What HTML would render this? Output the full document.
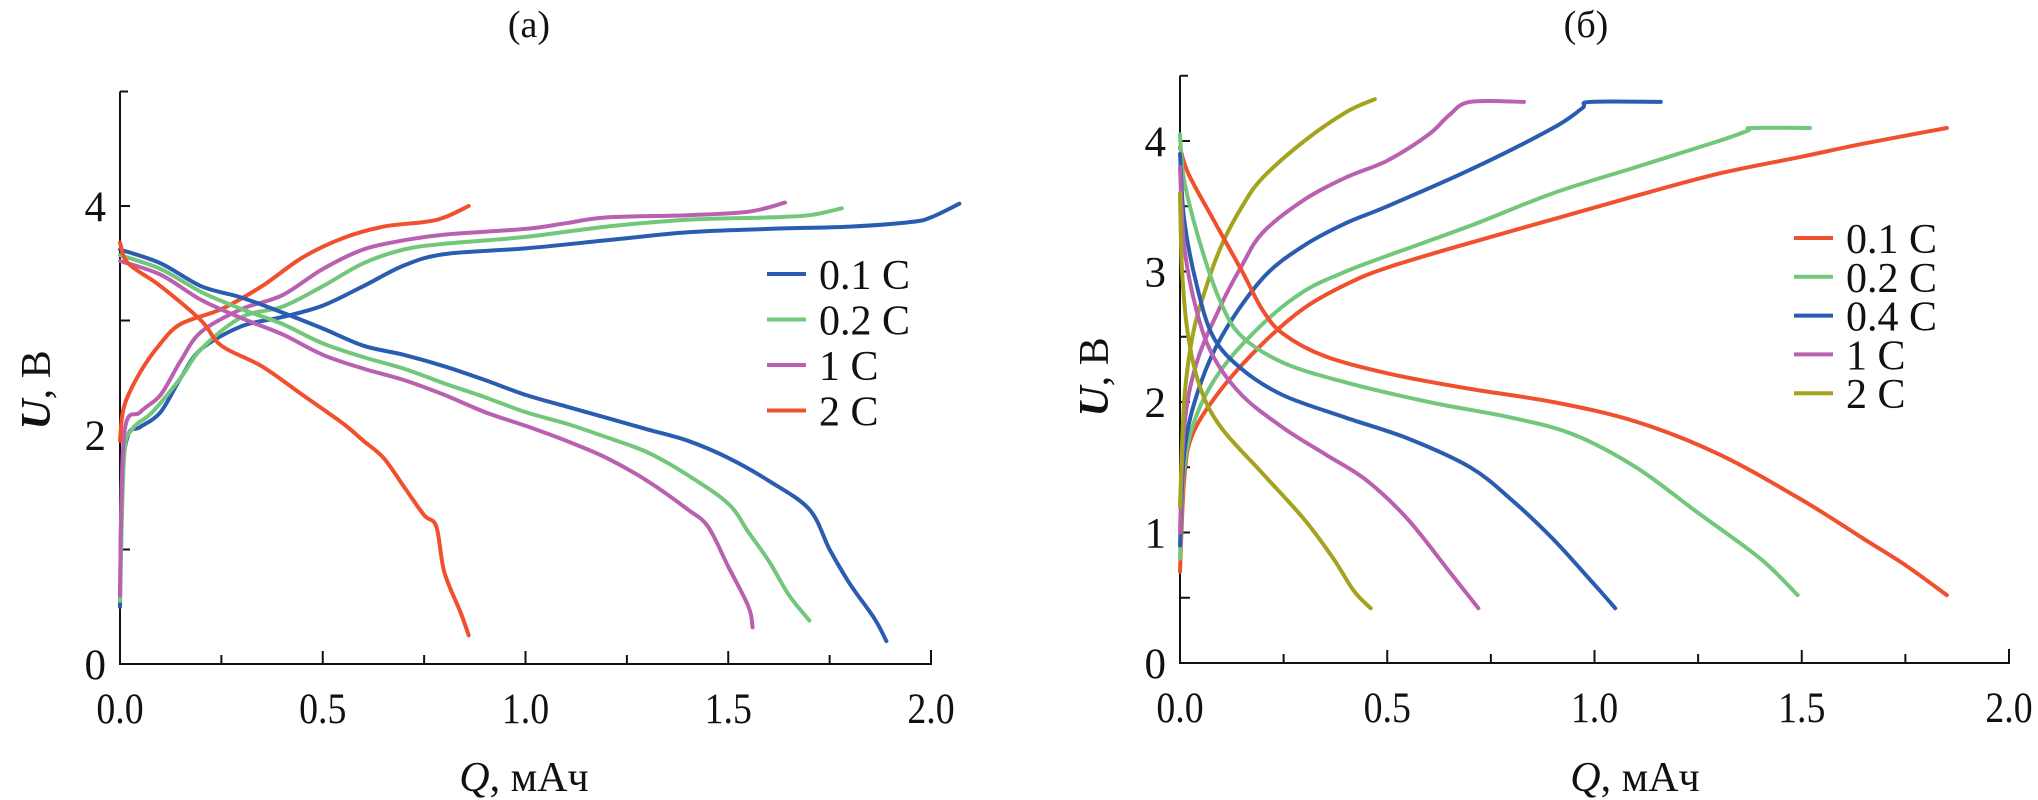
<!DOCTYPE html>
<html><head><meta charset="utf-8"><style>
body{margin:0;background:#fff}
svg{display:block}
text{font-family:"Liberation Serif","Times New Roman",serif;fill:#111}
</style></head><body>
<svg id="s" width="2038" height="800" viewBox="0 0 2038 800"></svg>
<script>
// ---- data: panel (a)
const aLabels=["0.1 C","0.2 C","1 C","2 C"];
const aColors=["#2a5cb0","#72c77a","#b960b0","#f0502e"];
const aDisQ=[[0,0.1,0.2,0.3,0.4,0.5,0.6,0.7,0.8,0.9,1.0,1.1,1.2,1.3,1.4,1.5,1.6,1.7,1.75,1.8,1.86,1.89],
[0,0.1,0.2,0.3,0.4,0.5,0.6,0.7,0.8,0.9,1.0,1.1,1.2,1.3,1.4,1.5,1.55,1.6,1.65,1.7],
[0,0.1,0.2,0.3,0.4,0.5,0.6,0.7,0.8,0.9,1.0,1.1,1.2,1.3,1.4,1.45,1.5,1.55,1.56],
[0,0.02,0.1,0.2,0.25,0.35,0.45,0.55,0.6,0.65,0.7,0.75,0.78,0.8,0.84,0.86]];
const aDisU=[[3.62,3.5,3.3,3.2,3.07,2.93,2.78,2.7,2.6,2.48,2.35,2.25,2.15,2.05,1.95,1.8,1.6,1.35,1.0,0.7,0.4,0.2],
[3.57,3.45,3.25,3.1,2.97,2.8,2.68,2.58,2.45,2.33,2.2,2.1,1.98,1.85,1.65,1.4,1.15,0.9,0.6,0.38],
[3.52,3.4,3.18,3.02,2.88,2.7,2.58,2.48,2.35,2.2,2.08,1.95,1.8,1.6,1.35,1.2,0.85,0.5,0.32],
[3.68,3.5,3.3,3.0,2.78,2.6,2.35,2.1,1.95,1.8,1.55,1.3,1.2,0.8,0.45,0.25]];
const aChQ=[[0,0.005,0.02,0.05,0.1,0.15,0.2,0.3,0.4,0.5,0.6,0.7,0.8,1.0,1.2,1.4,1.6,1.8,1.95,2.0,2.07],
[0,0.01,0.03,0.08,0.15,0.2,0.3,0.4,0.5,0.6,0.7,0.8,1.0,1.2,1.4,1.6,1.7,1.78],
[0,0.01,0.05,0.1,0.15,0.2,0.3,0.4,0.5,0.6,0.7,0.8,1.0,1.1,1.2,1.4,1.55,1.64],
[0,0.01,0.05,0.1,0.15,0.25,0.35,0.45,0.55,0.65,0.75,0.8,0.86]];
const aChU=[[0.5,1.6,2.0,2.07,2.2,2.5,2.75,2.95,3.03,3.13,3.3,3.48,3.58,3.63,3.7,3.77,3.8,3.82,3.86,3.9,4.02],
[0.55,1.8,2.05,2.2,2.5,2.75,3.03,3.12,3.3,3.5,3.62,3.67,3.73,3.82,3.88,3.9,3.92,3.98],
[0.6,2.0,2.2,2.35,2.65,2.9,3.1,3.22,3.45,3.62,3.7,3.75,3.8,3.85,3.9,3.92,3.95,4.03],
[1.95,2.25,2.55,2.8,2.97,3.1,3.3,3.55,3.72,3.82,3.86,3.9,4.0]];
// ---- data: panel (б)
const bLabels=["0.1 C","0.2 C","0.4 C","1 C","2 C"];
const bColors=["#f0502e","#72c77a","#2a5cb0","#b960b0","#a3a31e"];
const bChQ=[[0,0.01,0.03,0.1,0.2,0.3,0.4,0.5,0.7,0.9,1.1,1.3,1.5,1.65,1.85],
[0,0.01,0.04,0.1,0.2,0.3,0.4,0.5,0.7,0.9,1.1,1.3,1.37,1.38,1.52],
[0,0.01,0.04,0.1,0.2,0.3,0.4,0.5,0.7,0.9,0.97,0.99,1.16],
[0,0.01,0.04,0.1,0.15,0.2,0.3,0.4,0.5,0.6,0.65,0.7,0.83],
[0,0.01,0.03,0.06,0.1,0.15,0.2,0.3,0.4,0.47]];
const bChU=[[0.7,1.4,1.75,2.1,2.45,2.72,2.9,3.03,3.22,3.4,3.58,3.75,3.88,3.98,4.1],
[0.8,1.5,1.9,2.25,2.6,2.85,3.0,3.12,3.35,3.6,3.8,4.0,4.08,4.1,4.1],
[0.9,1.6,2.05,2.5,2.95,3.2,3.37,3.5,3.78,4.1,4.25,4.3,4.3],
[1.0,1.8,2.3,2.75,3.05,3.3,3.55,3.72,3.85,4.05,4.2,4.3,4.3],
[1.2,2.0,2.5,2.85,3.2,3.5,3.72,4.0,4.22,4.32]];
const bDisQ=[[0,0.02,0.08,0.15,0.2,0.25,0.35,0.5,0.7,0.9,1.1,1.3,1.5,1.65,1.75,1.85],
[0,0.01,0.05,0.1,0.15,0.25,0.4,0.6,0.8,0.95,1.1,1.25,1.4,1.49],
[0,0.01,0.04,0.08,0.15,0.25,0.4,0.55,0.7,0.8,0.9,1.0,1.05],
[0,0.01,0.04,0.08,0.15,0.25,0.35,0.45,0.55,0.65,0.72],
[0,0.005,0.02,0.05,0.1,0.2,0.3,0.37,0.42,0.46]];
const bDisU=[[3.95,3.75,3.4,3.0,2.7,2.52,2.35,2.22,2.1,2.0,1.85,1.6,1.25,0.95,0.75,0.52],
[4.05,3.7,3.2,2.75,2.5,2.3,2.15,2.0,1.88,1.75,1.5,1.15,0.8,0.52],
[3.9,3.4,2.9,2.5,2.25,2.05,1.88,1.72,1.5,1.25,0.95,0.6,0.42],
[3.8,3.2,2.7,2.35,2.05,1.8,1.6,1.4,1.1,0.7,0.42],
[3.6,3.0,2.5,2.1,1.8,1.45,1.1,0.8,0.55,0.42]];
const xTicks=["0.0","0.5","1.0","1.5","2.0"];

const NS="http://www.w3.org/2000/svg";
const svg=document.getElementById('s');
const FF='"Liberation Serif","Times New Roman",serif';
function mk(tag,attrs,parent,txt){const e=document.createElementNS(NS,tag);for(const k in attrs)e.setAttribute(k,attrs[k]);if(tag==='text')e.setAttribute('font-family',FF);if(txt!==undefined)e.textContent=txt;(parent||svg).appendChild(e);return e;}

function smooth(pts){
  let d='M'+pts[0][0].toFixed(1)+' '+pts[0][1].toFixed(1);
  for(let i=0;i<pts.length-1;i++){
    const p0=pts[i?i-1:0],p1=pts[i],p2=pts[i+1],p3=pts[i+2<pts.length?i+2:i+1];
    const c1=[p1[0]+(p2[0]-p0[0])/6,p1[1]+(p2[1]-p0[1])/6];
    const c2=[p2[0]-(p3[0]-p1[0])/6,p2[1]-(p3[1]-p1[1])/6];
    d+=`C${c1[0].toFixed(1)} ${c1[1].toFixed(1)} ${c2[0].toFixed(1)} ${c2[1].toFixed(1)} ${p2[0].toFixed(1)} ${p2[1].toFixed(1)}`;
  }
  return d;
}

function panel(cfg){
  const g=mk('g',{});
  
  
  const X=q=>cfg.x0+q*cfg.xs, Y=u=>cfg.y0-u*cfg.ys;
  const ax=mk('path',{d:`M${cfg.x0} ${Y(cfg.ymax)}H${cfg.x0+8}M${cfg.x0} ${Y(cfg.ymax)}V${cfg.y0}H${X(2)}V${cfg.y0-14}`,stroke:'#111','stroke-width':2,fill:'none'},g);
  
  
  for(let i=1;i<=8;i++){const t=mk('line',{x1:X(i*0.25),x2:X(i*0.25),y1:cfg.y0,y2:cfg.y0-(i%2?9:13),stroke:'#111','stroke-width':2},g);
    }
  xTicks.forEach((l,i)=>{const t=mk('text',{x:X(i*0.5),y:cfg.y0+59,'text-anchor':'middle','font-size':43,transform:`translate(${X(i*0.5)},0) scale(0.88,1) translate(${-X(i*0.5)},0)`},g,l);
    });
  for(let v=cfg.ystep;v<cfg.ymax-1e-6;v+=cfg.ystep){const t=mk('line',{x1:cfg.x0,x2:cfg.x0+10,y1:Y(v),y2:Y(v),stroke:'#111','stroke-width':2},g);
    }
  cfg.ylabels.forEach(v=>{const t=mk('text',{x:cfg.x0-14,y:Y(v)+15,'text-anchor':'end','font-size':43},g,String(v));
    });
  const xt=mk('text',{x:cfg.xtx,y:791,'text-anchor':'middle','font-size':42},g);
  
  mk('tspan',{'font-style':'italic'},xt,'Q');mk('tspan',{},xt,', мАч');
  const yt=mk('text',{transform:`translate(${cfg.ytx},${cfg.yty}) rotate(-90)`,'text-anchor':'middle','font-size':42},g);
  
  mk('tspan',{'font-style':'italic','font-weight':'bold'},yt,'U');mk('tspan',{},yt,', В');
  const tt=mk('text',{x:cfg.tx,y:37,'text-anchor':'middle','font-size':38},g,cfg.title);
  
  const draw=(Q,U,nm)=>Q.forEach((qs,i)=>{
    const d=smooth(qs.map((q,j)=>[X(q),Y(U[i][j])]));
    const p=mk('path',{d,stroke:cfg.colors[i],'stroke-width':4,fill:'none','stroke-linejoin':'round','stroke-linecap':'round'},g);
    
    
  });
  draw(cfg.chQ,cfg.chU,'charge-curve');
  draw(cfg.disQ,cfg.disU,'discharge-curve');
  cfg.labels.forEach((l,i)=>{
    const y=cfg.ly+i*cfg.lgap;
    const le=mk('g',{},g);
    
    
    mk('line',{x1:cfg.lx,x2:cfg.lx+39,y1:y,y2:y,stroke:cfg.colors[i],'stroke-width':4},le);
    mk('text',{x:cfg.lx+52,y:y+15,'font-size':42},le,l);
  });
}
panel({name:'panel-a',title:'(а)',tx:529,x0:120,y0:664,xs:405.5,ys:114.5,ymax:5,ystep:1,ylabels:[0,2,4],
  xtx:524,ytx:50,yty:390,colors:aColors,labels:aLabels,chQ:aChQ,chU:aChU,disQ:aDisQ,disU:aDisU,lx:767,ly:274,lgap:45.5});
panel({name:'panel-b',title:'(б)',tx:1586,x0:1180,y0:663,xs:414.5,ys:130.5,ymax:4.5,ystep:0.5,ylabels:[0,1,2,3,4],
  xtx:1635,ytx:1108,yty:377,colors:bColors,labels:bLabels,chQ:bChQ,chU:bChU,disQ:bDisQ,disU:bDisU,lx:1794,ly:238,lgap:38.8});
</script>
</body></html>
